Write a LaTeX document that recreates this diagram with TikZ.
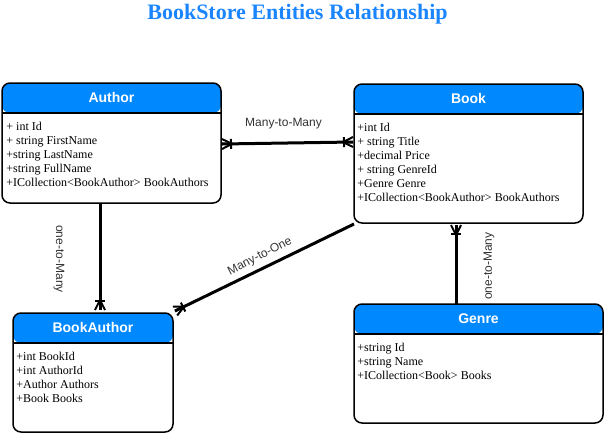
\documentclass[tikz,border=0pt]{standalone}
\usepackage{fontspec}
\setmainfont{Liberation Serif}
\newfontfamily\arialfont{Liberation Sans}
\usetikzlibrary{calc}
\definecolor{hdr}{HTML}{0088FF}
\definecolor{ttl}{HTML}{1A85FF}
\definecolor{lbl}{HTML}{333333}
\tikzset{
  entity/.style={draw=black, line width=1.5pt, rounded corners=8pt, fill=white, inner sep=0pt,
    path picture={
      \fill[hdr] (path picture bounding box.north west) rectangle ([yshift=-30pt]path picture bounding box.north east);
      \draw[black, line width=1.2pt] ([yshift=-30pt]path picture bounding box.north west) -- ([yshift=-30pt]path picture bounding box.north east);}},
  hdrtxt/.style={text=white, font=\arialfont\bfseries\fontsize{14}{16}\selectfont, inner sep=0pt},
  bodytxt/.style={anchor=north west, align=left, inner sep=0pt, font=\fontsize{12}{14}\selectfont},
  lbltxt/.style={text=lbl, font=\arialfont\fontsize{12}{14}\selectfont, inner sep=1pt},
  conn/.style={draw=black, line width=3pt},
  crow/.style={draw=black, line width=2pt},
}
\newcommand\crowfoot[2]{%
  \coordinate (cfm) at ($(#1)!10pt!(#2)$);
  \coordinate (cfb) at ($(#1)!9pt!(#2)$);
  \draw[crow] ($(#1)!5pt!90:(#2)$) -- (cfm) -- ($(#1)!5pt!-90:(#2)$);
  \draw[crow] (cfm) -- (#1);
  \draw[crow] ($(cfb)!5pt!90:(#2)$) -- ($(cfb)!5pt!-90:(#2)$);
}
\begin{document}
\begin{tikzpicture}[x=1pt, y=-1pt]
\useasboundingbox (0,0) rectangle (604,434);
\node[text=ttl, font=\bfseries\fontsize{22}{24}\selectfont, inner sep=0pt] (title) at (297.5,14) {BookStore Entities Relationship};

% Author
\node[entity, minimum width=219pt, minimum height=120pt] (au) at (111.5,143) {};
\node[hdrtxt] (au-t) at ([yshift=-15pt]au.north) {Author};
\node[bodytxt] (au-b) at ([shift={(5pt,-39.5pt)}]au.north west) {+ int Id\\+ string FirstName\\+string LastName\\+string FullName\\+ICollection<BookAuthor> BookAuthors};

% Book
\node[entity, minimum width=229pt, minimum height=139pt] (bk) at (468.5,153.5) {};
\node[hdrtxt] (bk-t) at ([yshift=-15pt]bk.north) {Book};
\node[bodytxt] (bk-b) at ([shift={(4pt,-39.5pt)}]bk.north west) {+int Id\\+ string Title\\+decimal Price\\+ string GenreId\\+Genre Genre\\+ICollection<BookAuthor> BookAuthors};

% BookAuthor
\node[entity, minimum width=160pt, minimum height=119pt] (ba) at (93,372.5) {};
\node[hdrtxt] (ba-t) at ([yshift=-15pt]ba.north) {BookAuthor};
\node[bodytxt] (ba-b) at ([shift={(4pt,-39.5pt)}]ba.north west) {+int BookId\\+int AuthorId\\+Author Authors\\+Book Books};

% Genre
\node[entity, minimum width=249pt, minimum height=119pt] (gn) at (478.5,363.5) {};
\node[hdrtxt] (gn-t) at ([yshift=-15pt]gn.north) {Genre};
\node[bodytxt] (gn-b) at ([shift={(4pt,-39.5pt)}]gn.north west) {+string Id\\+string Name\\+ICollection<Book> Books};

% connectors
\coordinate (c1a) at (222,144);
\coordinate (c1b) at (353,142);
\draw[conn] (c1a) -- (c1b);
\crowfoot{c1a}{c1b}
\crowfoot{c1b}{c1a}

\coordinate (c2a) at (100,203);
\coordinate (c2b) at (100,310);
\draw[conn] (c2a) -- (c2b);
\crowfoot{c2b}{c2a}

\coordinate (c3a) at (354,224);
\coordinate (c3b) at (175,311);
\draw[conn] (c3a) -- (c3b);
\crowfoot{c3b}{c3a}

\coordinate (c4a) at (456,304);
\coordinate (c4b) at (456,225);
\draw[conn] (c4a) -- (c4b);
\crowfoot{c4b}{c4a}

% labels
\node[lbltxt] (l1) at (283.5,124) {Many-to-Many};
\node[lbltxt, rotate=-90] (l2) at (59,259) {one-to-Many};
\node[lbltxt, rotate=27] (l3) at (260,256.5) {Many-to-One};
\node[lbltxt, rotate=90] (l4) at (489,266) {one-to-Many};
\end{tikzpicture}
\end{document}
